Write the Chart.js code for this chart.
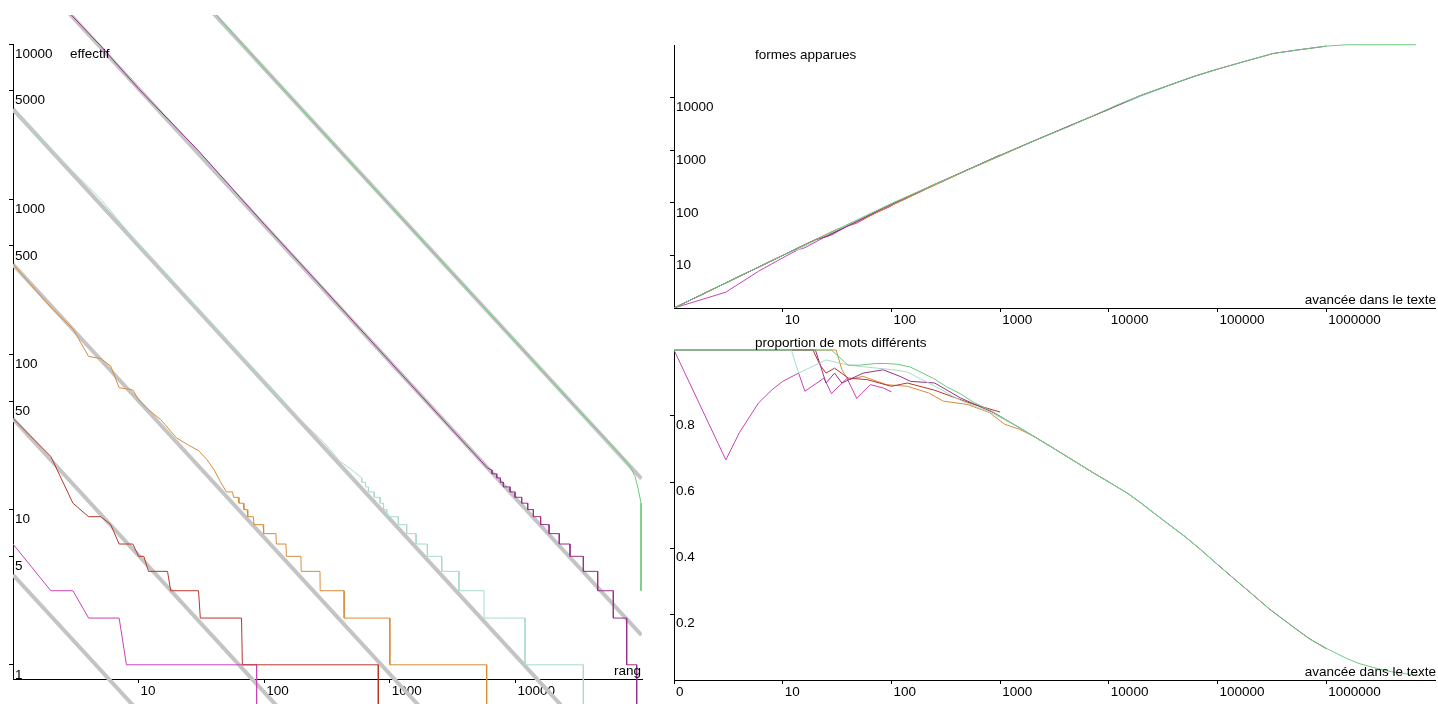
<!DOCTYPE html>
<html lang="fr">
<head>
<meta charset="utf-8">
<title>Zipf - rang, formes apparues, proportion</title>
<script src="https://cdn.jsdelivr.net/npm/chart.js@4.4.0/dist/chart.umd.min.js"></script>
<style>
	html, body { margin: 0; padding: 0; background: #fff; }
	body { width: 1438px; height: 704px; position: relative; overflow: hidden; }
	canvas { position: absolute; }
	#graphiqueRang { left: 0; top: 0; }
	#graphiqueFormes { left: 660px; top: 0; }
	#graphiqueProportion { left: 660px; top: 330px; }
</style>
</head>
<body>
<canvas id="graphiqueRang" width="660" height="704"></canvas>
<canvas id="graphiqueFormes" width="778" height="330"></canvas>
<canvas id="graphiqueProportion" width="778" height="374"></canvas>
<script>

// --- graduations ---
var rangTicks = [10, 100, 1000, 10000];
var effectifTicks = [1, 5, 10, 50, 100, 500, 1000, 5000, 10000];
var avanceeTicks = [10, 100, 1000, 10000, 100000, 1000000];
var avanceeTicksBas = [1, 10, 100, 1000, 10000, 100000, 1000000];
var avanceeLabelsBas = ['0', '10', '100', '1000', '10000', '100000', '1000000'];
var formesTicks = [10, 100, 1000, 10000];
var proportionTicks = [0.2, 0.4, 0.6, 0.8];

// --- rang / effectif : [rang, effectif] ---
var effectifPetit = [[1,6],[2,3],[3,3],[4,2],[7,2],[8,1],[87,1],[87,0.3]];
var effectifRouge = [[1,38.7],[2,22],[3,11],[4,9],[5,9],[6,8],[7,6],[9,6],[10,5],[11,5],[12,4],[17,4],[18,3],[30,3],[31,2],[66,2],[67,1],[810,1],[810,0.3]];
var effectifOrange = [[1,381],[2,201],[3,146],[4,97],[5,94],[6,84],[7,61],[8,60],[9,59],[10,51],[12,44],[15,38],[20,29],[25,26],[30,24],[35,21],[40,18],[45,15],[50,13],[56,13],[57,12],[62,12],[63,11],[68,11],[69,10],[73,10],[74,9],[82,9],[83,8],[98,8],[99,7],[124,7],[125,6],[149,6],[150,5],[196,5],[197,4],[278,4],[279,3],[432,3],[433,2],[1000,2],[1001,1],[5905,1],[5905,0.3]];
var effectifTurquoise = [[1,3800],[2,2090],[5,1000],[10,510],[20,280],[50,125],[100,67],[200,37],[300,27],[400,20.5],[500,18],[597,16],[598,15],[640,15],[641,14],[675,14],[676,13],[750,13],[751,12],[836,12],[837,11],[890,11],[891,10],[944,10],[945,9],[1169,9],[1170,8],[1362,8],[1363,7],[1617,7],[1618,6],[1990,6],[1991,5],[2590,5],[2591,4],[3556,4],[3557,3],[5623,3],[5624,2],[11920,2],[11921,1],[34750,1],[34750,0.3]];
var effectifPourpre = [[1,39000],[2,21200],[5,9700],[10,5150],[30,2050],[100,690],[300,262],[1000,90],[3000,34],[6000,18.5],[6500,18],[6501,17],[7100,17],[7101,16],[7600,16],[7601,15],[8020,15],[8021,14],[9060,14],[9061,13],[9930,13],[9931,12],[11220,12],[11221,11],[12530,11],[12531,10],[13900,10],[13901,9],[15880,9],[15881,8],[18520,8],[18521,7],[22350,7],[22351,6],[27200,6],[27201,5],[34750,5],[34751,4],[45200,4],[45201,3],[60200,3],[60201,2],[76900,2],[76901,1],[92400,1],[92400,0.3]];
var effectifVert = [[1,400000],[10,53000],[39,16300],[100,6960],[1000,915],[10000,121],[30000,46],[60000,25.3],[81700,19],[89600,16.4],[95200,13.5],[100000,11],[100020,3]];

// droites de Zipf (gris) : effectif au rang 1 et au rang 101000
var zipfRangs = [1, 101000];
var zipfDebut = [3.8, 38.5, 381, 3800, 39000, 400000];
var zipfFin = [0.00015, 0.0015, 0.015, 0.15, 1.55, 15.8];

// --- formes apparues : [avancée, formes] ---
var formesPetit = [[1,1],[3,2],[6,5],[10,9],[14,13],[16,14],[24,22],[28,24.3],[39,35.7],[48,41],[64,57],[84,74.5],[100,87]];
var formesRouge = [[1,1],[19,19],[25,23.3],[40,36.6],[100,89],[250,219],[550,460],[1000,812]];
var formesOrange = [[1,1],[31,31],[40,36.4],[90,80.5],[220,191],[500,418],[1100,847],[2000,1470],[5000,3275],[10000,5950]];
var formesTurquoise = [[1,1],[12,12],[14,13],[25,24.3],[104,97.8],[243,217],[866,699],[2000,1480],[5000,3300],[10000,6000],[20000,10700],[50000,22000],[100000,35000]];
var formesPourpre = [[1,1],[20,20],[25,22.5],[84,79],[250,225],[870,705],[2000,1480],[10000,6000],[19400,10900],[39300,18400],[62200,25700],[100000,34800],[186000,50100],[327000,69200],[533000,80000],[1000000,95000]];
var formesVert = [[1,1],[10,10],[100,97],[1000,790],[2330,1680],[4250,2790],[7740,4860],[11830,7200],[19400,10900],[39300,18400],[62200,25700],[98400,34400],[186000,50100],[327000,69200],[533000,80000],[1000000,95300],[1540000,100900],[3000000,101000],[6700000,101200]];

// --- proportion de mots différents : [avancée, proportion] ---
var propPetit = [[1,1],[3,0.667],[4,0.75],[6,0.84],[8,0.88],[10,0.905],[14,0.93],[16,0.875],[24,0.915],[28,0.868],[39,0.914],[48,0.853],[64,0.895],[84,0.885],[100,0.873]];
var propRouge = [[1,1],[19,1],[22,0.955],[25,0.93],[30,0.945],[40,0.915],[60,0.91],[100,0.89],[140,0.9],[250,0.878],[550,0.837],[1000,0.812]];
var propOrange = [[1,1],[31,1],[35,0.94],[40,0.91],[55,0.92],[90,0.895],[140,0.89],[220,0.87],[300,0.845],[500,0.835],[800,0.81],[1100,0.775],[1500,0.76],[2000,0.74],[3000,0.705],[5000,0.66],[7000,0.63],[10000,0.6]];
var propTurquoise = [[1,1],[12,1],[14,0.93],[25,0.97],[39,0.955],[52,0.95],[104,0.94],[138,0.934],[243,0.893],[428,0.848],[866,0.807],[1500,0.765],[2000,0.74],[3000,0.705],[5000,0.66],[7000,0.63],[10000,0.6],[15000,0.565],[20000,0.535],[30000,0.49],[50000,0.435],[70000,0.395],[100000,0.35]];
var propPourpre = [[1,1],[20,1],[25,0.9],[30,0.93],[35,0.9],[55,0.93],[84,0.94],[120,0.92],[150,0.905],[250,0.9],[430,0.855],[870,0.81],[1500,0.765],[2000,0.74],[3000,0.705],[5000,0.66],[7000,0.63],[10000,0.6],[15000,0.565],[20000,0.535],[30000,0.49],[50000,0.435],[70000,0.395],[100000,0.35],[150000,0.3],[200000,0.265],[300000,0.215],[500000,0.16],[700000,0.125],[1000000,0.095]];
var propVert = [[1,1],[28,1],[40,0.954],[51,0.954],[71,0.959],[90,0.959],[112,0.957],[148,0.949],[183,0.934],[243,0.914],[323,0.888],[428,0.868],[566,0.842],[866,0.812],[1524,0.763],[2000,0.74],[3000,0.705],[5000,0.66],[7000,0.63],[10000,0.6],[15000,0.565],[20000,0.535],[30000,0.49],[50000,0.435],[70000,0.395],[100000,0.35],[150000,0.3],[200000,0.265],[300000,0.215],[500000,0.16],[700000,0.125],[1000000,0.096],[1500000,0.067],[2000000,0.05],[3000000,0.034],[4000000,0.025],[5000000,0.02],[7000000,0.0145]];

var couleurs = {
	vert: '#6cca7b',
	turquoise: '#a8dcc6',
	pourpre: '#98308a',
	petit: '#c843b6',
	rouge: '#b5382c',
	orange: '#d88c38',
	gris: '#c4c4c4'
};

var police = { family: '"Liberation Sans", Arial, sans-serif', size: 13.5 };
var policeCss = '13.5px "Liberation Sans", Arial, sans-serif';

function serie(donnees, couleur, clip, largeur) {
	return {
		data: donnees,
		borderColor: couleur,
		backgroundColor: couleur,
		borderWidth: largeur || 1,
		pointRadius: 0,
		fill: false,
		tension: 0,
		clip: clip
	};
}

// textes libres (titres d'axes)
function textes(liste) {
	return {
		id: 'textes',
		afterDraw: function (chart) {
			var ctx = chart.ctx;
			ctx.save();
			ctx.font = policeCss;
			ctx.fillStyle = '#000';
			ctx.textBaseline = 'middle';
			liste.forEach(function (t) {
				ctx.textAlign = t.align || 'left';
				ctx.fillText(t.texte, t.x, t.y);
			});
			ctx.restore();
		}
	};
}

function axeX(min, max, valeurs, labels, hauteur) {
	return {
		type: 'logarithmic',
		position: 'bottom',
		bounds: 'data',
		min: min,
		max: max,
		afterFit: function (s) { s.height = hauteur; },
		afterBuildTicks: function (s) { s.ticks = valeurs.map(function (v) { return { value: v }; }); },
		ticks: {
			align: 'start', labelOffset: 2, padding: 0, color: '#000', font: police,
			maxRotation: 0, autoSkip: false,
			callback: function (v, i) { return labels[i]; }
		},
		grid: { drawOnChartArea: false, tickLength: 4, color: '#000' },
		border: { color: '#000', width: 1 }
	};
}

function axeY(type, min, max, valeurs, labels, largeur, decalage) {
	return {
		type: type,
		position: 'left',
		bounds: 'data',
		min: min,
		max: max,
		afterFit: function (s) { s.width = largeur; },
		afterBuildTicks: function (s) { s.ticks = valeurs.map(function (v) { return { value: v }; }); },
		ticks: {
			mirror: true, padding: 2, labelOffset: decalage, color: '#000', font: police, autoSkip: false,
			callback: function (v, i) { return labels[i]; }
		},
		grid: { drawOnChartArea: false, tickLength: 4, color: '#000' },
		border: { color: '#000', width: 1 }
	};
}

var optionsCommunes = {
	responsive: false,
	animation: false,
	devicePixelRatio: 1,
	events: [],
	plugins: { legend: { display: false }, tooltip: { enabled: false } }
};

// ---------- graphique de gauche : rang / effectif ----------
var clipRang = { left: 0, top: 29, right: 0, bottom: 25 };
var datasetsRang = [
	serie(effectifVert, couleurs.vert, clipRang),
	serie(effectifPourpre, couleurs.pourpre, clipRang),
	serie(effectifTurquoise, couleurs.turquoise, clipRang),
	serie(effectifOrange, couleurs.orange, clipRang),
	serie(effectifRouge, couleurs.rouge, clipRang),
	serie(effectifPetit, couleurs.petit, clipRang)
];
for (var k = 0; k < zipfDebut.length; k++) {
	datasetsRang.push(serie([[zipfRangs[0], zipfDebut[k]], [zipfRangs[1], zipfFin[k]]], couleurs.gris, clipRang, 4));
}

new Chart(document.getElementById('graphiqueRang'), {
	type: 'line',
	data: { datasets: datasetsRang },
	options: Object.assign({}, optionsCommunes, {
		layout: { padding: { left: 0, top: 44, right: 18, bottom: 0 } },
		scales: {
			x: axeX(1, 101850, rangTicks, rangTicks.map(String), 25),
			y: axeY('logarithmic', 0.81, 10000, effectifTicks, effectifTicks.map(String), 13, 10)
		}
	}),
	plugins: [textes([
		{ texte: 'effectif', x: 70, y: 54 },
		{ texte: 'rang', x: 641, y: 671, align: 'right' }
	])]
});

// ---------- haut droite : formes apparues ----------
var clipFormes = { left: 0, top: 3, right: 0, bottom: 0 };
new Chart(document.getElementById('graphiqueFormes'), {
	type: 'line',
	data: { datasets: [
		serie(formesVert, couleurs.vert, clipFormes),
		serie(formesPourpre, couleurs.pourpre, clipFormes),
		serie(formesTurquoise, couleurs.turquoise, clipFormes),
		serie(formesOrange, couleurs.orange, clipFormes),
		serie(formesRouge, couleurs.rouge, clipFormes),
		serie(formesPetit, couleurs.petit, clipFormes)
	] },
	options: Object.assign({}, optionsCommunes, {
		layout: { padding: { left: 0, top: 45, right: 3, bottom: 0 } },
		scales: {
			x: axeX(1, 10000000, avanceeTicks, avanceeTicks.map(String), 22),
			y: axeY('logarithmic', 1, 100000, formesTicks, formesTicks.map(String), 14, 10)
		}
	}),
	plugins: [textes([
		{ texte: 'formes apparues', x: 95, y: 55 },
		{ texte: 'avancée dans le texte', x: 776, y: 300, align: 'right' }
	])]
});

// ---------- bas droite : proportion de mots différents ----------
var clipProp = { left: 0, top: 2, right: 0, bottom: 0 };
new Chart(document.getElementById('graphiqueProportion'), {
	type: 'line',
	data: { datasets: [
		serie(propVert, couleurs.vert, clipProp),
		serie(propTurquoise, couleurs.turquoise, clipProp),
		serie(propPourpre, couleurs.pourpre, clipProp),
		serie(propRouge, couleurs.rouge, clipProp),
		serie(propOrange, couleurs.orange, clipProp),
		serie(propPetit, couleurs.petit, clipProp)
	] },
	options: Object.assign({}, optionsCommunes, {
		layout: { padding: { left: 0, top: 20, right: 3, bottom: 0 } },
		scales: {
			x: axeX(1, 10000000, avanceeTicksBas, avanceeLabelsBas, 24),
			y: axeY('linear', 0, 1, proportionTicks, proportionTicks.map(String), 14, 9)
		}
	}),
	plugins: [textes([
		{ texte: 'proportion de mots différents', x: 95, y: 13 },
		{ texte: 'avancée dans le texte', x: 776, y: 342, align: 'right' }
	])]
});

</script>
</body>
</html>
